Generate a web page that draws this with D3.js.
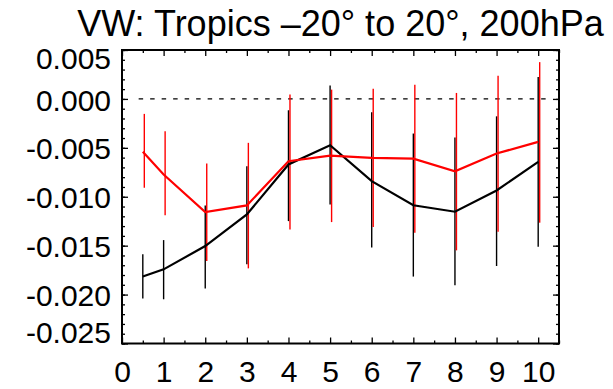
<!DOCTYPE html>
<html>
<head>
<meta charset="utf-8">
<script src="https://cdn.jsdelivr.net/npm/d3@7"></script>
<style>
  body { margin: 0; background: #fff; }
  text { font-family: "Liberation Sans", Arial, Helvetica, sans-serif; fill: #000; }
  .axis path { display: none; }
  .axis line { stroke: #000; stroke-width: 1.3; }
</style>
</head>
<body>
<div id="chart"></div>
<script>
// lag (x) positions
const lags = [0.5, 1, 2, 3, 4, 5, 6, 7, 8, 9, 10];

// black series: mean, upper and lower error
const blackMean = [-0.01816, -0.01742, -0.01504, -0.01181, -0.00670, -0.00473, -0.00841, -0.01087, -0.01153, -0.00936, -0.00643];
const blackHi   = [-0.01589, -0.01443, -0.01089, -0.00688, -0.00116,  0.00136, -0.00137, -0.00354, -0.00395, -0.00178,  0.00224];
const blackLo   = [-0.02041, -0.02048, -0.01939, -0.01691, -0.01249, -0.01079, -0.01520, -0.01816, -0.01905, -0.01708, -0.01510];

// red series
const redMean = [-0.00541, -0.00772, -0.01157, -0.01089, -0.00637, -0.00579, -0.00602, -0.00611, -0.00739, -0.00558, -0.00439];
const redHi   = [-0.00153, -0.00331, -0.00660, -0.00449,  0.00044,  0.00095,  0.00105,  0.00146,  0.00061,  0.00238,  0.00376];
const redLo   = [-0.00908, -0.01188, -0.01657, -0.01732, -0.01334, -0.01259, -0.01308, -0.01367, -0.01548, -0.01357, -0.01265];

// axis ticks
const xTicks = [0, 1, 2, 3, 4, 5, 6, 7, 8, 9, 10];
const xMinor = [0.5, 1.5, 2.5, 3.5, 4.5, 5.5, 6.5, 7.5, 8.5, 9.5, 10.5];
const yTicks = [0.005, 0.000, -0.005, -0.010, -0.015, -0.020, -0.025];
const yMinor = d3.range(-25, 6).map(d => d / 1000);

const titleText = 'VW: Tropics \u201320\u00b0 to 20\u00b0, 200hPa';

const W = 613, H = 389;
const margin = { top: 50, right: 54, bottom: 45.5, left: 122 };
const width = W - margin.left - margin.right;
const height = H - margin.top - margin.bottom;

const svg = d3.select('#chart').append('svg')
  .attr('width', W)
  .attr('height', H);

svg.append('rect').attr('width', W).attr('height', H).attr('fill', '#fff');

const chart = svg.append('g')
  .attr('transform', `translate(${margin.left},${margin.top})`);

const xScale = d3.scaleLinear().domain([0, 10.5]).range([0, width]);
const yScale = d3.scaleLinear().domain([-0.025, 0.005]).range([height, 0]);

// title
svg.append('text')
  .attr('x', margin.left + width / 2)
  .attr('y', 36)
  .attr('text-anchor', 'middle')
  .style('font-size', '36px')
  .text(titleText);

// bottom axis, major + minor
const xAxis = chart.append('g')
  .attr('class', 'x axis')
  .attr('transform', `translate(0,${height})`)
  .call(d3.axisBottom(xScale).tickValues(xTicks).tickSize(-6).tickPadding(17)
    .tickFormat(d3.format('d')));
xAxis.selectAll('text').style('font-size', '30px');

chart.append('g')
  .attr('class', 'axis')
  .attr('transform', `translate(0,${height})`)
  .call(d3.axisBottom(xScale).tickValues(xMinor).tickSize(-3).tickFormat(''));

// top axis ticks
chart.append('g')
  .attr('class', 'axis')
  .call(d3.axisTop(xScale).tickValues(xTicks).tickSize(-6).tickFormat(''));
chart.append('g')
  .attr('class', 'axis')
  .call(d3.axisTop(xScale).tickValues(xMinor).tickSize(-3).tickFormat(''));

// left axis
const yAxis = chart.append('g')
  .attr('class', 'y axis')
  .call(d3.axisLeft(yScale).tickValues(yTicks).tickSize(-6).tickPadding(11)
    .tickFormat(d3.format('.3f')));
yAxis.selectAll('text')
  .style('font-size', '30px')
  .text(d => d3.format('.3f')(d).replace('\u2212', '-'))
  .attr('dy', d => d === 0.005 ? '0.6em' : d === -0.025 ? '-0.02em' : '0.37em');

chart.append('g')
  .attr('class', 'axis')
  .call(d3.axisLeft(yScale).tickValues(yMinor).tickSize(-3).tickFormat(''));

// right axis ticks
chart.append('g')
  .attr('class', 'axis')
  .attr('transform', `translate(${width},0)`)
  .call(d3.axisRight(yScale).tickValues(yTicks).tickSize(-6).tickFormat(''));
chart.append('g')
  .attr('class', 'axis')
  .attr('transform', `translate(${width},0)`)
  .call(d3.axisRight(yScale).tickValues(yMinor).tickSize(-3).tickFormat(''));

// zero line
chart.append('line')
  .attr('x1', xScale(0.4)).attr('x2', xScale(10.3))
  .attr('y1', yScale(0)).attr('y2', yScale(0))
  .attr('stroke', '#000')
  .attr('stroke-width', 1.2)
  .attr('stroke-dasharray', '4.5,7');

// error bars
function errorBars(hi, lo, color, dx) {
  chart.append('g').selectAll('line')
    .data(lags)
    .enter().append('line')
    .attr('x1', (d) => xScale(d) + dx)
    .attr('x2', (d) => xScale(d) + dx)
    .attr('y1', (d, i) => yScale(hi[i]))
    .attr('y2', (d, i) => yScale(lo[i]))
    .attr('stroke', color)
    .attr('stroke-width', 1.4);
}
errorBars(blackHi, blackLo, '#000', 0);
errorBars(redHi, redLo, '#ff0000', 1.5);

// mean lines
const line = d3.line()
  .x((d) => xScale(d[0]))
  .y((d) => yScale(d[1]));

chart.append('path')
  .datum(lags.map((d, i) => [d, blackMean[i]]))
  .attr('d', line)
  .attr('fill', 'none')
  .attr('stroke', '#000')
  .attr('stroke-width', 2.2);

chart.append('path')
  .datum(lags.map((d, i) => [d, redMean[i]]))
  .attr('d', line)
  .attr('fill', 'none')
  .attr('stroke', '#ff0000')
  .attr('stroke-width', 2.2);

// frame
chart.append('rect')
  .attr('width', width)
  .attr('height', height)
  .attr('fill', 'none')
  .attr('stroke', '#000')
  .attr('stroke-width', 2);
</script>
</body>
</html>
